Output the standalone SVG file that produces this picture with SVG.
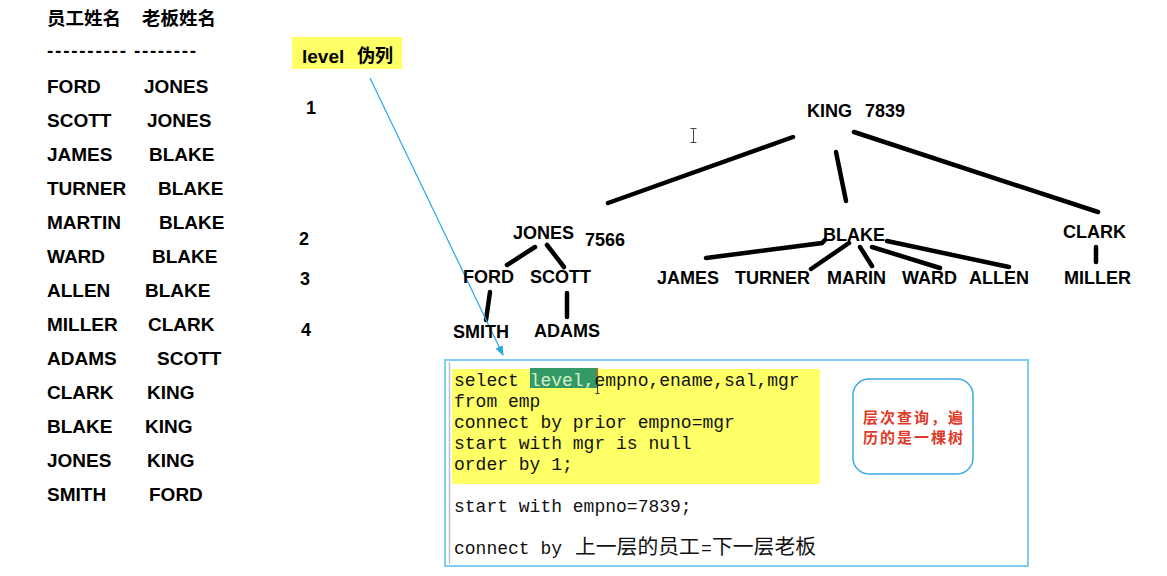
<svg xmlns="http://www.w3.org/2000/svg" width="1167" height="576" viewBox="0 0 1167 576">
<defs>
<style>
.b{font-family:"Liberation Sans",Arial,sans-serif;font-weight:bold;fill:#000}
.t19{font-size:19px}
.t18{font-size:18px}
.cjk{font-family:"Noto Sans CJK SC","Liberation Sans",sans-serif;font-weight:bold;font-size:18.5px;fill:#000}
.code{font-family:"Liberation Mono","Courier New",monospace;font-size:18px;fill:#111}
.codecjk{font-family:"Noto Sans CJK SC",sans-serif;font-size:20.8px;fill:#111}
.edge{stroke:#000;stroke-width:4.5;stroke-linecap:round;fill:none}
.red{font-family:"Noto Sans CJK SC",sans-serif;font-size:15px;font-weight:bold;fill:#E03A28;letter-spacing:2px}
</style>
<marker id="arr" markerWidth="10" markerHeight="10" refX="9" refY="5" orient="auto" markerUnits="userSpaceOnUse">
<path d="M0,1 L10,5 L0,9 Z" fill="#29A8E8"/>
</marker>
</defs>
<rect width="1167" height="576" fill="#fff"/>

<g id="table">
<text class="cjk" x="47" y="25">员工姓名</text>
<text class="cjk" x="142" y="25">老板姓名</text>
<text class="b t19" x="47" y="57" textLength="79" lengthAdjust="spacing">----------</text>
<text class="b t19" x="134" y="57" textLength="62" lengthAdjust="spacing">--------</text>
<g class="b t19">
<text x="47" y="93">FORD</text><text x="144" y="93">JONES</text>
<text x="47" y="127">SCOTT</text><text x="147" y="127">JONES</text>
<text x="47" y="161">JAMES</text><text x="149" y="161">BLAKE</text>
<text x="47" y="195">TURNER</text><text x="158" y="195">BLAKE</text>
<text x="47" y="229">MARTIN</text><text x="159" y="229">BLAKE</text>
<text x="47" y="263">WARD</text><text x="152" y="263">BLAKE</text>
<text x="47" y="297">ALLEN</text><text x="145" y="297">BLAKE</text>
<text x="47" y="331">MILLER</text><text x="148" y="331">CLARK</text>
<text x="47" y="365">ADAMS</text><text x="157" y="365">SCOTT</text>
<text x="47" y="399">CLARK</text><text x="147" y="399">KING</text>
<text x="47" y="433">BLAKE</text><text x="145" y="433">KING</text>
<text x="47" y="467">JONES</text><text x="147" y="467">KING</text>
<text x="47" y="501">SMITH</text><text x="149" y="501">FORD</text>
</g>
</g>

<g id="level-label">
<rect x="292" y="37" width="110" height="32" fill="#FFFF66"/>
<text class="b t19" x="302" y="63">level</text>
<text class="cjk" x="357" y="62" style="font-size:18px">伪列</text>
</g>

<g id="level-numbers" class="b t18">
<text x="306" y="114">1</text>
<text x="299" y="245">2</text>
<text x="300" y="285">3</text>
<text x="301" y="336">4</text>
</g>

<g id="connectors">
<path class="edge" d="M793,137 L608,203"/>
<path class="edge" d="M836,152 L846,201"/>
<path class="edge" d="M854,132 L1098,212"/>
<path class="edge" d="M535,247 L507,265"/>
<path class="edge" d="M547,245 L564,267"/>
<path class="edge" d="M490,292 L486,320"/>
<path class="edge" d="M567,293 L567,317"/>
<path class="edge" d="M706,258 L822,243 L825,240"/>
<path class="edge" d="M849,243 L811,269"/>
<path class="edge" d="M860,247 L872,266"/>
<path class="edge" d="M872,247 L940,268"/>
<path class="edge" d="M887,241 L1009,267"/>
<path class="edge" d="M1096,247 L1096,262"/>
<path d="M370,78 L503,355" stroke="#29A8E8" stroke-width="1.2" fill="none" marker-end="url(#arr)"/>
</g>

<g class="b t18">
<g id="node-king"><text x="807" y="117">KING</text><text x="865" y="117">7839</text></g>
<g id="node-jones"><text x="513" y="239">JONES</text><text x="585" y="246">7566</text></g>
<g id="node-blake"><text x="823" y="241">BLAKE</text></g>
<g id="node-clark"><text x="1063" y="238">CLARK</text></g>
<g id="node-ford"><text x="463" y="283">FORD</text></g>
<g id="node-scott"><text x="530" y="283">SCOTT</text></g>
<g id="node-james"><text x="657" y="284">JAMES</text></g>
<g id="node-turner"><text x="735" y="284">TURNER</text></g>
<g id="node-marin"><text x="827" y="284">MARIN</text></g>
<g id="node-ward"><text x="902" y="284">WARD</text></g>
<g id="node-allen"><text x="969" y="284">ALLEN</text></g>
<g id="node-miller"><text x="1064" y="284">MILLER</text></g>
<g id="node-smith"><text x="453" y="338">SMITH</text></g>
<g id="node-adams"><text x="534" y="337">ADAMS</text></g>
</g>

<g id="cursor1" stroke="#444" stroke-width="1" fill="none">
<path d="M693.5,129 V142 M690.5,128.5 H696.5 M690.5,142.5 H696.5"/>
</g>

<g id="code-box">
<rect x="445" y="360" width="583" height="206" fill="#fff" stroke="#7DCDF0" stroke-width="2"/>
<line x1="449.5" y1="362" x2="449.5" y2="564" stroke="#B8C0D0" stroke-width="1.5"/>
<rect x="452" y="369" width="368" height="115" fill="#FFFF66"/>
<rect x="530" y="368" width="67" height="20" fill="#339966"/>
<line x1="597.5" y1="368" x2="597.5" y2="388" stroke="#D86000" stroke-width="1.2"/>
<text class="code" x="454" y="386">select <tspan fill="#D8F0C8">level,</tspan>empno,ename,sal,mgr</text>
<text class="code" x="454" y="407">from emp</text>
<text class="code" x="454" y="428">connect by prior empno=mgr</text>
<text class="code" x="454" y="449">start with mgr is null</text>
<text class="code" x="454" y="470">order by 1;</text>
<text class="code" x="454" y="512">start with empno=7839;</text>
<text class="code" x="454" y="554">connect by <tspan class="codecjk" x="575">上一层的员工</tspan><tspan x="701">=</tspan><tspan class="codecjk" x="712">下一层老板</tspan></text>
<path d="M597.5,381 V393 M595.5,380.5 H599.5 M595.5,393.5 H599.5" stroke="#333" stroke-width="1" fill="none"/>
</g>

<g id="note">
<rect x="853" y="379" width="120" height="95" rx="16" ry="16" fill="#fff" stroke="#3BA9E0" stroke-width="1.5"/>
<text class="red" x="914" y="423" text-anchor="middle">层次查询，遍</text>
<text class="red" x="914" y="443" text-anchor="middle">历的是一棵树</text>
</g>
</svg>
